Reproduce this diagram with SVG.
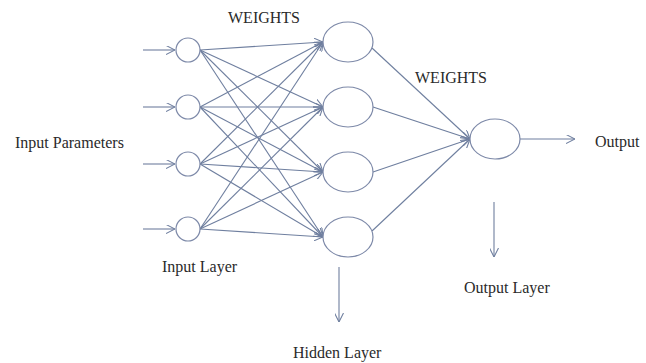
<svg xmlns="http://www.w3.org/2000/svg" width="646" height="363" viewBox="0 0 646 363">
<style>
.n{fill:#fff;stroke:#7d89a8;stroke-width:1.2}
.c line{stroke:#6f7f9f;stroke-width:1.1}
.a{marker-end:url(#ar)}
text{font-family:"Liberation Serif","Times New Roman",serif;font-size:16px;fill:#2a2a2a}
</style>
<defs>
<marker id="ar" viewBox="0 0 10 10" refX="10" refY="5" markerWidth="9" markerHeight="9" markerUnits="userSpaceOnUse" orient="auto">
<path d="M0,0 L10,5 L0,10" fill="none" stroke="#6f7f9f" stroke-width="1.2"/>
</marker>
</defs>
<rect width="646" height="363" fill="#fff"/>
<g id="connectors" class="c">
<line class="a" x1="143" y1="50" x2="175" y2="50"/>
<line class="a" x1="143" y1="107" x2="175" y2="107"/>
<line class="a" x1="143" y1="164" x2="175" y2="164"/>
<line class="a" x1="143" y1="229" x2="175" y2="229"/>

<line class="a" x1="200" y1="50" x2="323" y2="42"/>
<line class="a" x1="200" y1="50" x2="323" y2="107"/>
<line class="a" x1="200" y1="50" x2="323" y2="172"/>
<line class="a" x1="200" y1="50" x2="323" y2="237"/>
<line class="a" x1="200" y1="107" x2="323" y2="42"/>
<line class="a" x1="200" y1="107" x2="323" y2="107"/>
<line class="a" x1="200" y1="107" x2="323" y2="172"/>
<line class="a" x1="200" y1="107" x2="323" y2="237"/>
<line class="a" x1="200" y1="164" x2="323" y2="42"/>
<line class="a" x1="200" y1="164" x2="323" y2="107"/>
<line class="a" x1="200" y1="164" x2="323" y2="172"/>
<line class="a" x1="200" y1="164" x2="323" y2="237"/>
<line class="a" x1="200" y1="229" x2="323" y2="42"/>
<line class="a" x1="200" y1="229" x2="323" y2="107"/>
<line class="a" x1="200" y1="229" x2="323" y2="172"/>
<line class="a" x1="200" y1="229" x2="323" y2="237"/>

<line class="a" x1="372" y1="48" x2="470" y2="139"/>
<line class="a" x1="373" y1="107" x2="470" y2="139"/>
<line class="a" x1="373" y1="172" x2="470" y2="139"/>
<line class="a" x1="372" y1="231" x2="470" y2="139"/>

<line class="a" x1="520" y1="139" x2="575" y2="139"/>
<line class="a" x1="339" y1="267" x2="339" y2="322"/>
<line class="a" x1="494" y1="202" x2="494" y2="257"/>
</g>
<g id="in1"><circle class="n" cx="188" cy="50" r="12"/></g>
<g id="in2"><circle class="n" cx="188" cy="107" r="12"/></g>
<g id="in3"><circle class="n" cx="188" cy="164" r="12"/></g>
<g id="in4"><circle class="n" cx="188" cy="229" r="12"/></g>
<g id="h1"><ellipse class="n" cx="348" cy="42" rx="25" ry="20"/></g>
<g id="h2"><ellipse class="n" cx="348" cy="107" rx="25" ry="20"/></g>
<g id="h3"><ellipse class="n" cx="348" cy="172" rx="25" ry="20"/></g>
<g id="h4"><ellipse class="n" cx="348" cy="237" rx="25" ry="20"/></g>
<g id="out"><ellipse class="n" cx="495" cy="139" rx="25" ry="20"/></g>
<g id="labels">
<text x="228" y="23">WEIGHTS</text>
<text x="415" y="83">WEIGHTS</text>
<text x="15" y="148">Input Parameters</text>
<text x="595" y="147">Output</text>
<text x="162" y="272">Input Layer</text>
<text x="464" y="293">Output Layer</text>
<text x="293" y="358">Hidden Layer</text>
</g>
</svg>
